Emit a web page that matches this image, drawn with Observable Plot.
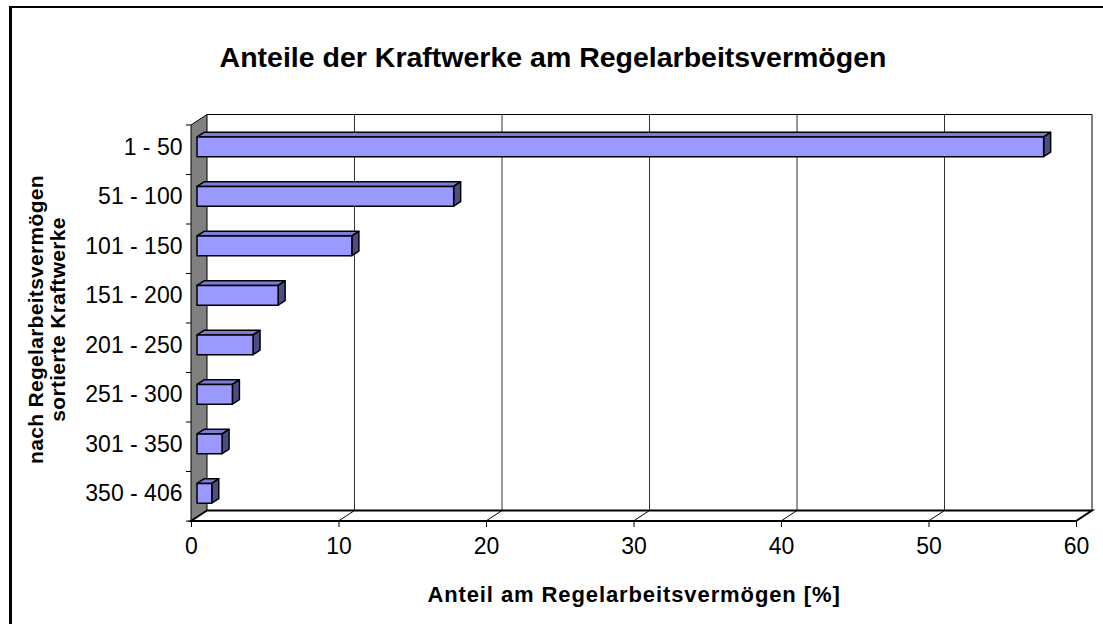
<!DOCTYPE html>
<html><head><meta charset="utf-8">
<script src="https://cdn.jsdelivr.net/npm/d3@7"></script>
<script src="https://cdn.jsdelivr.net/npm/@observablehq/plot@0.6"></script>
<style>
html,body{margin:0;padding:0;background:#fff;overflow:hidden;}
#chart{position:relative;width:1103px;height:624px;}
#chart svg{position:absolute;left:0;top:0;}
#border{position:absolute;left:9px;top:6px;width:1200px;height:800px;border-left:3px solid #000;border-top:2px solid #000;pointer-events:none;}
.xtitle text{letter-spacing:0.9px;}
.ytitle text{letter-spacing:0.3px;}
</style></head><body>
<div id="chart"><div id="border"></div></div>
<script>
// ---- data ----
const categories = ["1 - 50", "51 - 100", "101 - 150", "151 - 200", "201 - 250", "251 - 300", "301 - 350", "350 - 406"];
const shares = [57.4, 17.4, 10.5, 5.5, 3.8, 2.4, 1.7, 1.0];
const xTicks = [0, 10, 20, 30, 40, 50, 60];
const title = "Anteile der Kraftwerke am Regelarbeitsvermögen";
const xTitle = "Anteil am Regelarbeitsvermögen [%]";
const yTitle = ["nach Regelarbeitsvermögen", "sortierte Kraftwerke"];

// ---- style ----
const FONT = "'Liberation Sans', Arial, Helvetica, sans-serif";
const DX = 16, DY = -10.5;          // 3D depth vector (pixels)
const BAR_FRONT = 0.375, BAR_BACK = 0.8125;  // bar depth fractions
const BAR_TOP = 0.32, BAR_BOTTOM = 0.72;     // bar extent within band
const COL_FRONT = "#9999FF", COL_TOP = "#7C7CD6", COL_SIDE = "#4D4D80", COL_WALL = "#808080";

const data = categories.map((c, i) => ({category: c, share: shares[i]}));

const pts = (arr) => arr.map(p => p.join(",")).join(" ");

function frame3d(index, scales, values, dim) {
  const x = scales.x, y = scales.y;
  const top = dim.marginTop, bottom = dim.height - dim.marginBottom;
  const xa = x(xTicks[0]), xz = x(xTicks[xTicks.length - 1]);
  const g = d3.create("svg:g");
  const line = (x1, y1, x2, y2, w, s) => g.append("line")
    .attr("x1", x1).attr("y1", y1).attr("x2", x2).attr("y2", y2)
    .attr("stroke", s).attr("stroke-width", w);
  // back wall outline
  g.append("path")
    .attr("d", `M${xa + DX},${top + DY}H${xz + DX}V${bottom + DY}`)
    .attr("fill", "none").attr("stroke", "#000").attr("stroke-width", 1);
  // gridlines on back wall
  for (const t of xTicks.slice(1, -1)) line(x(t) + DX, top + DY, x(t) + DX, bottom + DY, 1, "#333");
  // left wall
  g.append("polygon")
    .attr("points", pts([[xa, top], [xa + DX, top + DY], [xa + DX, bottom + DY], [xa, bottom]]))
    .attr("fill", COL_WALL).attr("stroke", "#000").attr("stroke-width", 1);
  // floor
  g.append("polygon")
    .attr("points", pts([[xa, bottom], [xz, bottom], [xz + DX, bottom + DY], [xa + DX, bottom + DY]]))
    .attr("fill", "#fff").attr("stroke", "#000").attr("stroke-width", 2);
  for (const t of xTicks.slice(1, -1)) line(x(t), bottom, x(t) + DX, bottom + DY, 1, "#000");
  // category boundary ticks on the front-left axis
  for (const c of categories) line(xa - 5, y(c), xa, y(c), 1, "#000");
  line(xa - 5, bottom, xa, bottom, 1, "#000");
  return g.node();
}

function bars3d(index, scales, values, dim) {
  const x = scales.x, y = scales.y;
  const step = y(categories[1]) - y(categories[0]);
  const g = d3.create("svg:g")
    .attr("stroke", "#000").attr("stroke-width", 1.5).attr("stroke-linejoin", "round");
  const fx = BAR_FRONT * DX, fy = BAR_FRONT * DY, bx = BAR_BACK * DX, by = BAR_BACK * DY;
  for (const i of index) {
    const d = data[i];
    const y0 = y(d.category) + step * BAR_TOP, y1 = y(d.category) + step * BAR_BOTTOM;
    const x0 = x(0), x1 = x(d.share);
    g.append("polygon").attr("fill", COL_TOP)
      .attr("points", pts([[x0 + fx, y0 + fy], [x1 + fx, y0 + fy], [x1 + bx, y0 + by], [x0 + bx, y0 + by]]));
    g.append("polygon").attr("fill", COL_SIDE)
      .attr("points", pts([[x1 + fx, y0 + fy], [x1 + bx, y0 + by], [x1 + bx, y1 + by], [x1 + fx, y1 + fy]]));
    g.append("polygon").attr("fill", COL_FRONT)
      .attr("points", pts([[x0 + fx, y0 + fy], [x1 + fx, y0 + fy], [x1 + fx, y1 + fy], [x0 + fx, y1 + fy]]));
  }
  return g.node();
}

const plot = Plot.plot({
  width: 1103,
  height: 624,
  marginLeft: 191,
  marginRight: 27,
  marginTop: 125,
  marginBottom: 103,
  style: {fontFamily: FONT, fontSize: "23px", color: "#000", background: "transparent", overflow: "visible"},
  x: {domain: [xTicks[0], xTicks[xTicks.length - 1]]},
  y: {domain: categories, padding: 0, round: false},
  marks: [
    Plot.ruleX(xTicks, {render: frame3d}),
    Plot.barX(data, {x: "share", y: "category", render: bars3d}),
    Plot.axisX(xTicks, {tickSize: 6, tickPadding: 10, stroke: "#000", fontSize: 23, label: null}),
    Plot.axisY({tickSize: 0, tickPadding: 9, dy: -3, fontSize: 23, label: null}),
    Plot.text([title], {frameAnchor: "top", textAnchor: "middle", lineAnchor: "middle", dx: -81, dy: -68, fontSize: 28.5, fontWeight: "bold"}),
    Plot.text([xTitle], {frameAnchor: "bottom", textAnchor: "middle", lineAnchor: "middle", dy: 73, fontSize: 22, fontWeight: "bold", className: "xtitle"}),
    Plot.text([yTitle.join("\n")], {frameAnchor: "left", textAnchor: "middle", lineAnchor: "middle", dx: -145, dy: -4, rotate: -90, fontSize: 21, fontWeight: "bold", lineHeight: 1.05, className: "ytitle"})
  ]
});
document.getElementById("chart").prepend(plot);
</script>
</body></html>
